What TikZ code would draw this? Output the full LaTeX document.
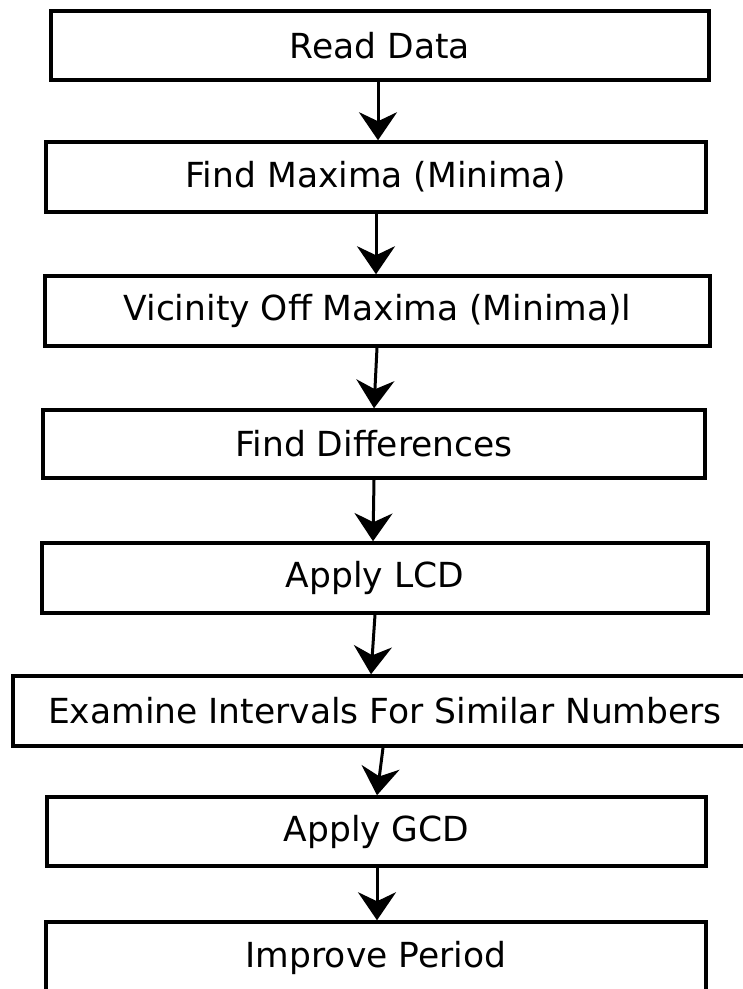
\documentclass[tikz,border=0pt]{standalone}
\usepackage{fontspec}
\setmainfont{DejaVu Sans}
\usetikzlibrary{arrows.meta,calc}
\tikzset{
  stepbox/.style={draw=black, line width=1.75pt, fill=white, inner sep=0pt,
    font=\fontsize{17.25}{20}\selectfont, text=black},
  flow/.style={line width=1.5pt, -{Stealth[length=14pt,width=19pt,inset=4.5pt]}}
}
\begin{document}
\begin{tikzpicture}[x=0.5pt,y=-0.5pt]
\useasboundingbox (0,0) rectangle (743,989);
\clip (0,0) rectangle (743,989);
\fill[white] (0,0) rectangle (743,989);
\node[stepbox, minimum width=329pt, minimum height=34.5pt] (b1) at (380,45.5) {Read Data};
\node[stepbox, minimum width=330pt, minimum height=35pt] (b2) at (376,177) {Find Maxima (Minima)};
\node[stepbox, minimum width=332.5pt, minimum height=35pt] (b3) at (377.5,311) {Vicinity Off Maxima (Minima)l};
\node[stepbox, minimum width=331pt, minimum height=34pt] (b4) at (374,444) {Find Differences};
\node[stepbox, minimum width=333pt, minimum height=35pt] (b5) at (375,578) {Apply LCD};
\node[stepbox, minimum width=372pt, minimum height=35pt] (b6) at (385,711) {Examine Intervals For Similar Numbers};
\node[stepbox, minimum width=329.5pt, minimum height=34.5pt] (b7) at (376.5,831.5) {Apply GCD};
\node[stepbox, minimum width=330pt, minimum height=36pt] (b8) at (376,958) {Improve Period};
\draw[flow] ($(b1.south)+(-2,0)$) -- ($(b2.north)+(2,0)$);
\draw[flow] ($(b2.south)+(0,0)$) -- ($(b3.north)+(-1.5,0)$);
\draw[flow] ($(b3.south)+(-0.5,0)$) -- ($(b4.north)+(0,0)$);
\draw[flow] ($(b4.south)+(0,0)$) -- ($(b5.north)+(-2,0)$);
\draw[flow] ($(b5.south)+(0,0)$) -- ($(b6.north)+(-14,0)$);
\draw[flow] ($(b6.south)+(-2,0)$) -- ($(b7.north)+(0.5,0)$);
\draw[flow] ($(b7.south)+(0.5,0)$) -- ($(b8.north)+(1,0)$);
\end{tikzpicture}
\end{document}
